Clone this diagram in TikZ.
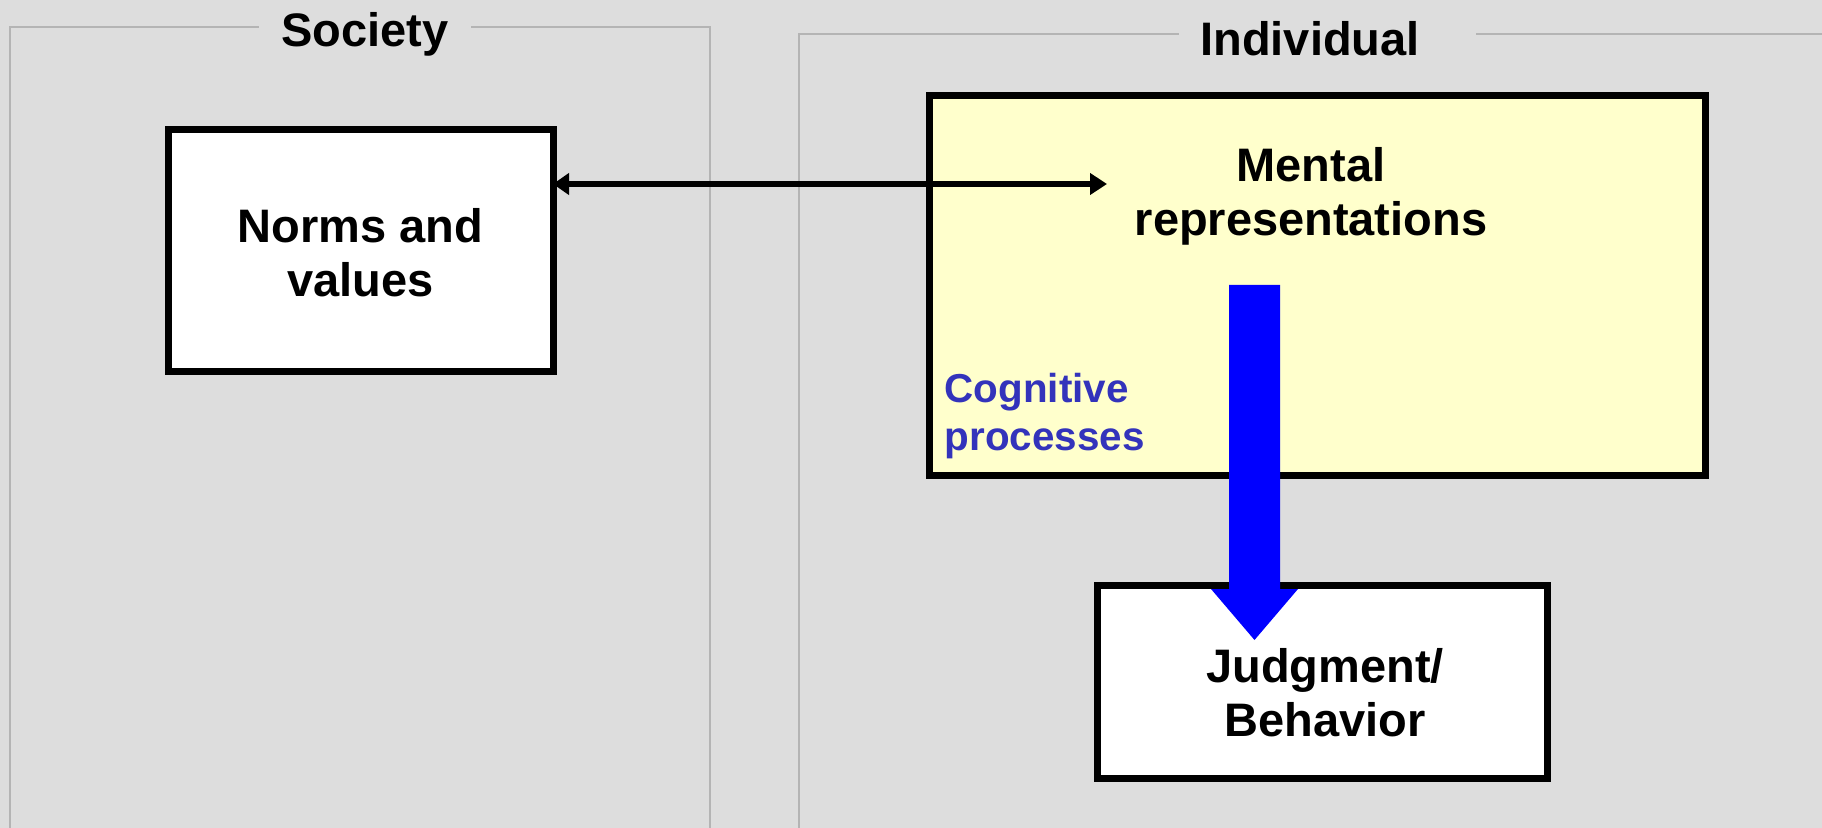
\documentclass[tikz,border=0pt]{standalone}
\usepackage{fontspec}
\setmainfont{Liberation Sans}
\usetikzlibrary{arrows.meta,calc}
\definecolor{bgc}{RGB}{221,221,221}
\definecolor{framec}{RGB}{180,180,180}
\definecolor{yelc}{RGB}{255,255,204}
\definecolor{procblue}{RGB}{0,0,255}
\definecolor{proctext}{RGB}{51,51,187}
\tikzset{
  bigfont/.style={font=\fontsize{13.37pt}{15.36pt}\selectfont\bfseries},
  smallfont/.style={font=\fontsize{11.49pt}{13.66pt}\selectfont\bfseries},
  frameline/.style={draw=framec, line width=0.2mm},
  boxstyle/.style={draw=black, line width=0.7mm, outer sep=0pt, inner sep=0pt},
  txt/.style={bigfont, inner sep=0pt, align=center},
  framelabel/.style={bigfont, inner sep=0pt, anchor=base},
  linkarrow/.style={draw=black, line width=0.55mm, {Triangle[length=1.6mm,width=2.1mm]}-{Triangle[length=1.7mm,width=2.1mm]}}
}
\begin{document}
\begin{tikzpicture}[x=0.1mm,y=-0.1mm]
\useasboundingbox (0,0) rectangle (1822,828);
\fill[bgc] (0,0) rectangle (1822,828);
% frames
\draw[frameline] (10,828) -- (10,27) -- (259,27);
\draw[frameline] (471,27) -- (710,27) -- (710,828);
\draw[frameline] (799,828) -- (799,34) -- (1179,34);
\draw[frameline] (1476,34) -- (1822,34);
\node[framelabel] (soc) at (365,47) {Society};
\node[framelabel] (ind) at (1310,56) {Individual};
% boxes
\node[boxstyle, fill=white, minimum width=38.5mm, minimum height=24.2mm] (norms) at (360.5,251) {};
\node[txt] (normst) at (360.5,252.5) {Norms and\\values};
\node[boxstyle, fill=yelc, minimum width=77.6mm, minimum height=38mm] (mental) at (1317,286) {};
\node[txt] (mentalt) at (1311,196) {Mental\\representations};
\node[boxstyle, fill=white, minimum width=45mm, minimum height=19.3mm] (judg) at (1322,681.5) {};
\node[txt] (judgt) at (1325,692.5) {Judgment/\\Behavior};
\node[smallfont, text=proctext, inner sep=0pt, align=left, anchor=north west] (proc) at (944,372.5) {Cognitive\\processes};
% double arrow
\coordinate (mrL) at (1107,184);
\draw[linkarrow] (norms.east |- mrL) -- (mrL);
% blue process arrow
\coordinate (cpS) at (1254.5,285);
\coordinate (cpE) at (1254.5,640);
\fill[procblue] ($(cpS)+(-25.5,0)$) -- ($(cpS)+(25.5,0)$) -- ($(cpE)+(25.5,-51)$) -- ($(cpE)+(43.5,-51)$) -- (cpE) -- ($(cpE)+(-43.5,-51)$) -- ($(cpE)+(-25.5,-51)$) -- cycle;
\end{tikzpicture}
\end{document}
